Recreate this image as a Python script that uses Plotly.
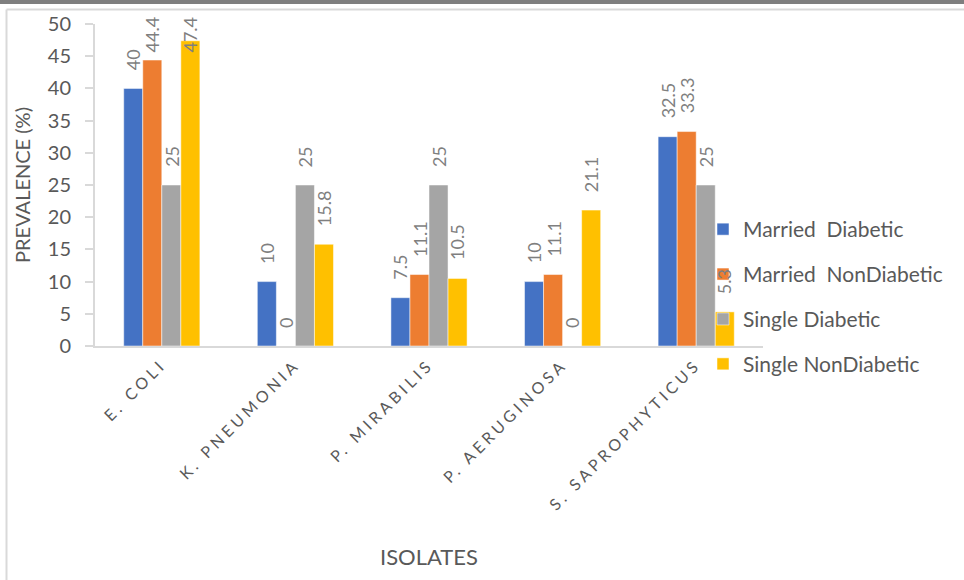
import plotly.graph_objects as go

isolates = ["E. COLI", "K. PNEUMONIA", "P. MIRABILIS", "P. AERUGINOSA", "S. SAPROPHYTICUS"]
series_names = ["Married  Diabetic", "Married  NonDiabetic", "Single Diabetic", "Single NonDiabetic"]
married_diabetic = [40, 10, 7.5, 10, 32.5]
married_nondiabetic = [44.4, 0, 11.1, 11.1, 33.3]
single_diabetic = [25, 25, 25, 0, 25]
single_nondiabetic = [47.4, 15.8, 10.5, 21.1, 5.3]
colors = ["#4472C4", "#ED7D31", "#A5A5A5", "#FFC000"]
all_series = [married_diabetic, married_nondiabetic, single_diabetic, single_nondiabetic]

FONT = "Lato"
W, H = 964, 580
L, R, T, B = 95, 201, 24, 234
pw, ph = W - L - R, H - T - B
YMAX = 50
BARGAP = 0.43

def px(x): return (x - L) / pw
def py(y): return (H - B - y) / ph

fig = go.Figure()
annotations = []
n = len(all_series)
bw = (1 - BARGAP) / n
for j, (name, vals) in enumerate(zip(series_names, all_series)):
    fig.add_trace(go.Bar(
        x=isolates, y=vals, name=name, legendgroup=f"g{j}",
        marker=dict(color=colors[j], line=dict(color="white", width=0.5)),
    ))
    # data labels (Excel-style: rotated, fixed gap above bar, kept inside chart area)
    for i, v in enumerate(vals):
        s = str(v)
        est_len = 10.2 * sum(c.isdigit() for c in s) + 4.6 * s.count(".")
        bar_top = T + (YMAX - v) / YMAX * ph
        shift = min(16, bar_top - 19 - est_len)
        annotations.append(dict(
            x=i + (j - (n - 1) / 2) * bw, y=v, xref="x", yref="y",
            text=s, showarrow=False, textangle=-90,
            xanchor="center", yanchor="bottom", yshift=shift,
            font=dict(family=FONT, size=18, color="#7f7f7f"),
        ))

shapes = [
    dict(type="rect", xref="paper", yref="paper", x0=px(0), x1=px(W), y0=py(4), y1=py(0),
         fillcolor="#7f7f7f", line=dict(width=0), layer="above"),
    dict(type="line", xref="paper", yref="paper", x0=px(6.5), x1=px(W), y0=py(9.5), y1=py(9.5),
         line=dict(color="#d9d9d9", width=2)),
    dict(type="line", xref="paper", yref="paper", x0=px(6.5), x1=px(6.5), y0=py(9.5), y1=py(H),
         line=dict(color="#d9d9d9", width=2)),
]

fig.update_layout(
    width=W, height=H,
    margin=dict(l=L, r=R, t=T, b=B, autoexpand=False),
    paper_bgcolor="white", plot_bgcolor="white",
    barmode="group", bargap=BARGAP, bargroupgap=0,
    font=dict(family=FONT, color="#595959"),
    shapes=shapes, annotations=annotations,
    legend=dict(x=px(703), y=py(209), xanchor="left", yanchor="top",
                font=dict(family=FONT, size=21, color="#595959"),
                bgcolor="rgba(0,0,0,0)", tracegroupgap=14.6),
    xaxis=dict(showline=True, linecolor="#d9d9d9", linewidth=2, ticks="",
               tickangle=-45, tickfont=dict(family=FONT, size=16, color="#595959"),
               ticklabelstandoff=1,
               title=dict(text="ISOLATES", font=dict(family=FONT, size=22, color="#595959"), standoff=80)),
    yaxis=dict(range=[0, YMAX], dtick=5, showgrid=False, zeroline=False,
               showline=True, linecolor="#d9d9d9", linewidth=1.5,
               ticks="outside", ticklen=8, tickcolor="#d9d9d9", tickwidth=1.5,
               ticksuffix="\u00a0\u00a0",
               tickfont=dict(family=FONT, size=20, color="#595959"),
               title=dict(text="PREVALENCE (%)", font=dict(family=FONT, size=20, color="#595959"), standoff=12)),
)

post = "document.querySelectorAll('.xtick text').forEach(function(t){t.style.letterSpacing='3.8px';});"
fig.write_html("out.html", post_script=post)
